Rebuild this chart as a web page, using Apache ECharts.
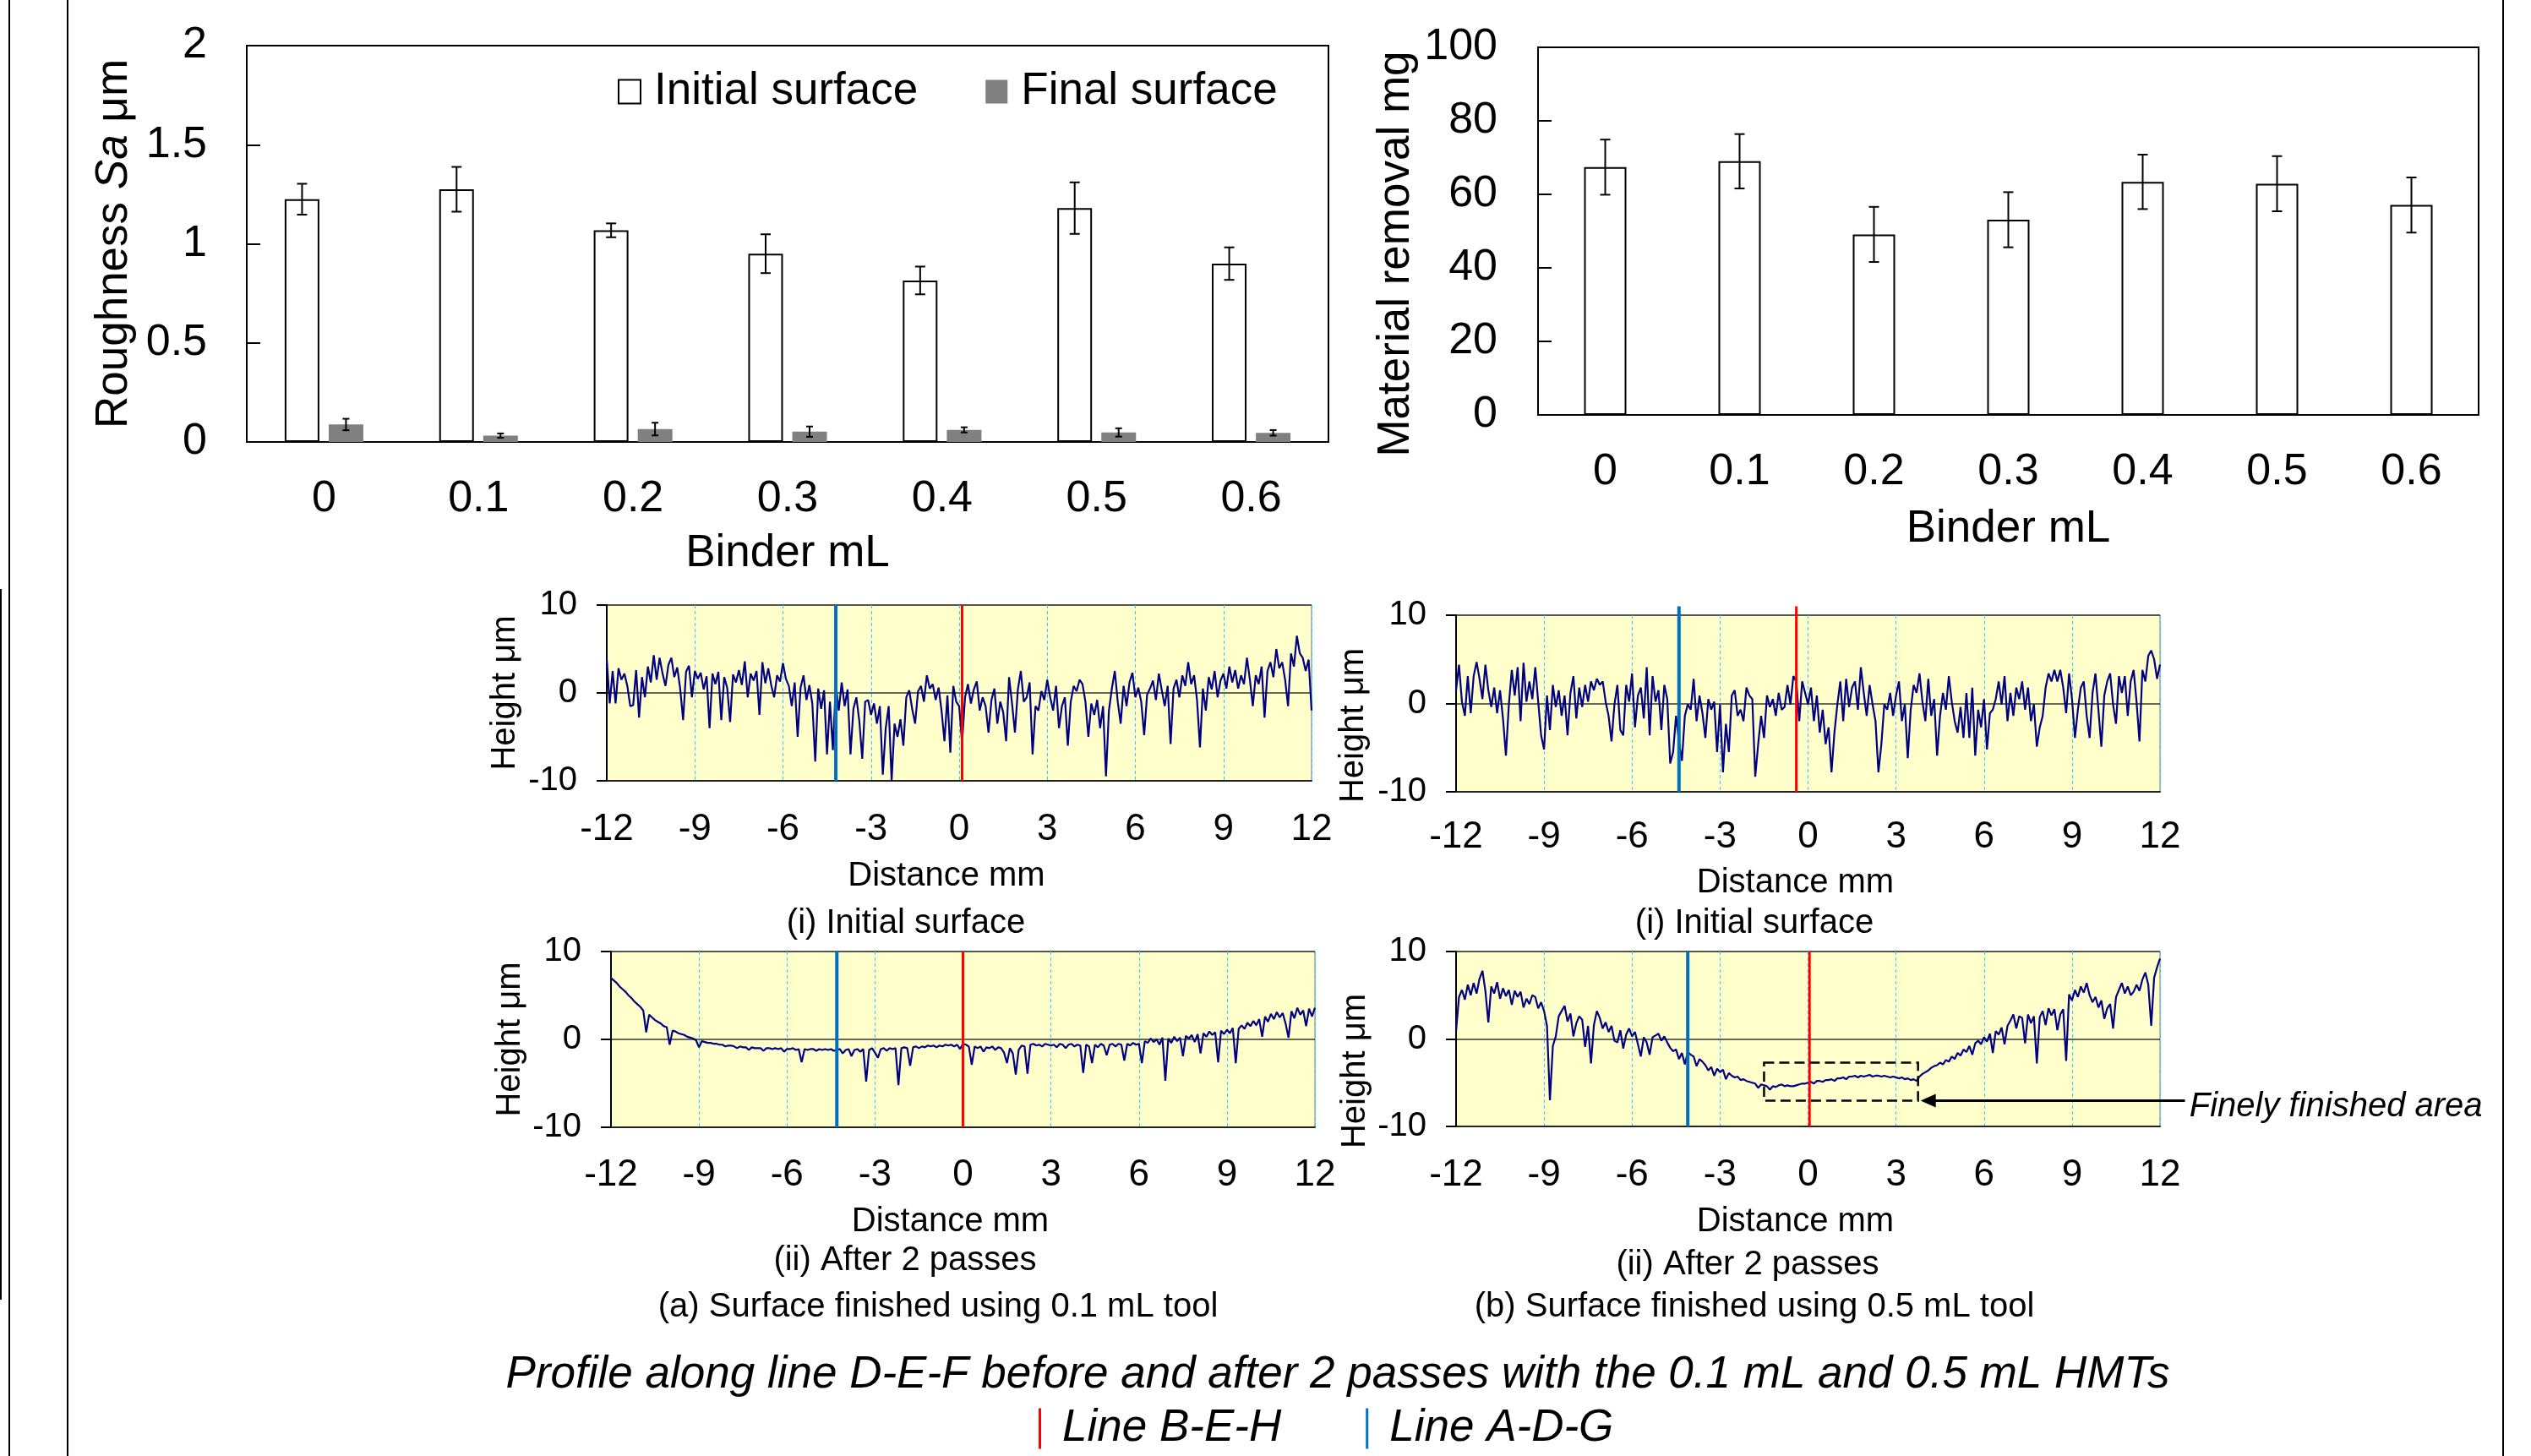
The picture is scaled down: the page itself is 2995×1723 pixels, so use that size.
<!DOCTYPE html>
<html><head><meta charset="utf-8">
<script src="https://cdn.jsdelivr.net/npm/echarts@6/dist/echarts.min.js"></script>
<style>html,body{margin:0;padding:0;background:#fff}#c{width:2995px;height:1723px}</style>
</head><body><div id="c"></div>
<script>
// ---------------- DATA ----------------
const binderCategories = ['0', '0.1', '0.2', '0.3', '0.4', '0.5', '0.6'];
const roughnessInitial = [1.225, 1.275, 1.068, 0.950, 0.815, 1.180, 0.900];
const roughnessInitialErr = [0.078, 0.113, 0.035, 0.098, 0.070, 0.130, 0.082];
const roughnessFinal = [0.088, 0.032, 0.065, 0.052, 0.061, 0.048, 0.046];
const roughnessFinalErr = [0.029, 0.011, 0.032, 0.026, 0.013, 0.021, 0.014];
const materialRemoval = [67.4, 69.0, 49.1, 53.1, 63.4, 62.9, 57.1];
const materialRemovalErr = [7.5, 7.4, 7.5, 7.5, 7.4, 7.5, 7.5];

// Profiles: heights (um) sampled every 0.1 mm from -12 mm to 12 mm (one row per mm)
const profileStart = -12;
const profileStep = 0.1;
const profileA_initial = [
  3.8, -1.2, 2.5, -1.2, 2.8, 1.5, 2.2, 0.8, -1.5, -1.4,
  2.6, -2.8, 1.8, -0.5, 3.0, 1.2, 4.3, 1.5, 4.0, 2.2,
  0.8, 3.2, 4.0, 1.8, 2.9, 0.5, -3.1, 2.4, 3.1, -0.5,
  2.5, 1.6, 2.3, 0.4, 1.9, -4.0, 2.2, 1.0, 2.4, -3.1,
  1.8, 0.6, -3.3, 2.1, 1.2, 2.6, 0.9, 3.6, -0.5, 2.2,
  1.4, 2.5, -2.5, 3.5, 1.1, 2.8, 0.9, -0.5, 2.0, 1.3,
  3.4, 1.6, 0.8, -1.5, 1.2, -5.0, 0.6, 2.0, -0.8, 0.9,
  -1.2, -7.8, 0.5, -1.8, 0.3, -7.0, -1.0, -6.5, 1.0, -2.0,
  1.2, -1.5, 0.4, -7.0, -1.8, -0.5, -3.2, -7.5, -1.0, -0.8,
  -2.5, -1.2, -3.5, -1.5, -9.3, -4.0, -1.5, -10.0, -3.5, -5.0,
  -3.0, -6.0, -0.5, 0.3, -1.8, -3.5, 0.2, 0.8, -1.0, 2.0,
  0.5, 1.0, -0.8, 0.6, -2.0, -5.5, -0.3, -6.8, 0.8, -1.0,
  -1.5, -5.7, -0.5, 1.0, -1.2, 0.4, 1.3, -2.0, -0.5, -1.5,
  -4.5, -0.8, 0.5, -3.5, -1.0, -2.2, -5.5, 1.8, -1.2, -4.5,
  0.4, 2.5, -1.0, -0.5, 1.2, -7.0, -1.5, -2.0, 0.2, -0.8,
  1.5, -0.5, -2.0, 0.8, -4.0, -1.5, -0.5, -6.0, -1.0, 0.8,
  0.2, 1.5, 1.0, -1.0, -5.0, -1.2, -2.5, -0.8, -4.0, -1.5,
  -9.5, -2.0, 0.5, 2.5, -1.0, -3.5, 0.8, -1.5, 1.2, 2.3,
  -0.5, 0.6, -1.0, -4.8, -0.2, 0.5, 1.4, -0.8, 2.2, 0.3,
  -1.5, 0.8, -5.8, 0.5, 1.5, -0.5, 2.0, 0.8, 3.5, 1.0,
  2.0, -0.8, -6.2, 0.5, -2.0, 1.8, 0.4, 2.5, -0.5, 1.4,
  2.2, 0.5, 3.0, 1.2, 2.6, 0.5, 2.0, 1.0, 4.0, 1.5,
  -1.5, 2.0, 1.0, 3.0, -2.8, 2.5, 3.5, 1.8, 5.0, 2.8,
  3.5, 1.5, -1.5, 4.5, 3.0, 6.5, 4.5, 4.0, 2.5, 3.8,
  -2.0
];
const profileA_after = [
  7.0, 6.7, 6.4, 6.0, 5.7, 5.4, 5.0, 4.7, 4.3, 4.0,
  3.7, 3.3, 0.8, 2.8, 2.5, 2.2, 2.0, 1.8, 1.5, 1.4,
  -0.6, 1.0, 0.9, 0.7, 0.6, 0.5, 0.3, 0.2, 0.1, -0.1,
  -0.9, -0.2, -0.3, -0.4, -0.4, -0.5, -0.5, -0.6, -0.6, -0.8,
  -0.7, -0.7, -0.8, -1.0, -0.8, -0.9, -0.9, -1.2, -0.9, -1.0,
  -1.0, -1.0, -1.3, -1.0, -1.0, -1.1, -1.0, -1.1, -1.0, -1.4,
  -1.1, -1.1, -1.0, -1.2, -1.1, -2.6, -1.1, -1.2, -1.1, -1.1,
  -1.3, -1.1, -1.2, -1.1, -1.2, -1.1, -1.3, -1.2, -1.1, -1.6,
  -1.2, -1.1, -1.9, -1.2, -1.1, -1.4, -1.1, -4.8, -1.2, -1.0,
  -1.5, -2.1, -1.1, -1.0, -1.3, -1.0, -1.1, -1.0, -5.2, -1.0,
  -0.9, -1.0, -3.0, -0.9, -0.8, -1.0, -0.8, -0.9, -0.7, -0.8,
  -0.7, -0.9, -0.7, -0.8, -0.6, -0.7, -0.6, -0.8, -0.6, -1.1,
  -0.5, -0.6, -0.8, -2.9, -0.8, -1.0, -0.8, -1.4, -0.9, -1.0,
  -0.8, -1.2, -0.9, -1.0, -1.5, -2.7, -1.0, -1.6, -4.0, -1.2,
  -0.7, -0.8, -3.9, -0.6, -0.5, -0.7, -0.6, -0.8, -0.5, -0.6,
  -0.7, -0.6, -0.9, -0.5, -0.6, -1.0, -0.6, -0.5, -0.8, -0.6,
  -0.7, -3.8, -0.6, -0.8, -2.7, -0.6, -0.9, -0.5, -0.7, -1.8,
  -0.6, -0.5, -0.8, -0.5, -0.6, -2.4, -0.5, -0.7, -0.4, -0.6,
  -0.5, -2.7, -0.2, -0.4, 0.1, -0.3, 0.0, -0.6, 0.2, -4.7,
  0.1, -0.4, 0.3, -0.2, 0.2, -1.9, 0.4, 0.1, 0.5, -0.3,
  0.6, -1.6, 0.7, 0.3, 0.9, 0.5, 0.8, -2.6, 1.0, 0.6,
  1.1, 0.7, 1.3, -2.7, 1.2, 1.6, 1.2, 1.9, 1.5, 2.1,
  1.6, 2.3, 0.3, 2.6, 2.0, 2.9, 2.3, 3.1, 2.5, 3.0,
  1.8, 0.2, 3.2, 2.4, 3.6, 2.8, 3.3, 1.5, 3.5, 2.6,
  3.6
];
const profileB_initial = [
  1.5, 4.4, 0.2, -1.4, 3.1, -1.1, 3.1, 4.7, 2.8, 0.5,
  4.4, 1.5, -0.4, 1.8, -1.1, 1.5, -1.7, -5.9, -0.1, 3.8,
  0.9, 4.1, -2.0, 4.6, 0.2, 2.5, 0.5, 4.1, 0.2, -3.6,
  -5.2, 0.9, -3.0, 2.1, -0.4, 1.5, -1.4, 0.9, -3.6, 1.2,
  3.1, -1.7, 1.8, -0.4, 2.1, 0.2, 2.5, 1.5, 2.8, 2.1,
  2.5, 0.2, -1.4, -4.3, -0.1, 2.1, -3.0, -3.6, 2.1, 0.2,
  3.4, -2.7, 0.9, 1.8, -1.7, 4.1, -3.6, 3.1, 0.2, 1.5,
  -3.0, 2.1, 0.5, -6.8, -5.5, -1.4, -4.3, -6.5, -1.4, -0.1,
  -0.7, 2.8, -2.0, 0.9, -1.1, -3.9, 0.5, -0.7, 0.2, -5.5,
  -0.1, -7.8, -2.3, -5.5, 0.9, 1.5, -1.4, -0.7, -2.0, 1.8,
  0.9, 0.5, -8.3, -4.6, -1.4, -3.9, 0.9, -0.4, 0.5, -1.4,
  1.2, -0.7, -0.4, 2.1, -0.1, 3.1, 2.5, -2.0, 2.5, 1.2,
  -0.1, 1.8, -2.0, 0.9, -3.3, -0.7, -4.6, -2.7, -7.8, -3.3,
  -0.1, 2.5, -2.0, 2.8, -0.4, 1.8, 2.5, -0.7, 4.1, 1.2,
  -1.4, 2.1, -0.1, -2.0, -7.8, -4.6, -0.1, -0.7, 1.2, -1.4,
  0.9, 2.5, -2.0, -0.1, -6.2, -0.7, 2.1, 1.2, 3.4, 0.2,
  -2.0, 2.8, -1.4, 0.5, -5.9, -1.4, 1.2, -0.7, 3.1, 0.2,
  -2.0, -3.3, -0.4, -3.9, 1.2, -3.9, 1.8, -5.9, -0.7, -2.7,
  0.5, -5.2, -1.1, -0.7, 0.5, 2.5, -0.1, 3.1, -2.0, 1.2,
  -1.4, 1.8, 0.5, 2.5, -0.7, 1.8, -2.0, -0.1, -4.9, -2.7,
  -1.4, 1.8, 3.4, 2.5, 3.8, 2.5, 3.8, 1.8, -1.1, 3.4,
  0.5, -3.9, -0.7, 1.8, 2.5, -1.4, -3.9, 1.2, 3.4, -0.7,
  -4.9, 0.9, 2.5, 3.4, -0.1, -2.3, 3.1, 1.2, 3.1, -1.4,
  2.5, 3.8, 0.2, -4.3, 3.8, 2.5, 5.4, 6.0, 5.0, 2.8,
  4.4
];
const profileB_after = [
  0.9, 4.8, 5.6, 4.5, 6.2, 5.0, 6.4, 5.2, 6.9, 7.8,
  5.5, 1.9, 6.0, 5.2, 6.5, 4.6, 5.8, 4.9, 5.6, 3.9,
  5.5, 4.8, 5.4, 3.6, 4.6, 4.0, 5.0, 4.8, 3.5, 4.2,
  3.2, 1.5, -7.0, -0.8, 0.3, 2.6, 3.2, 3.8, 2.0, 2.9,
  0.3, 1.8, 2.6, 2.2, -0.9, 1.5, -2.8, 1.6, 3.2, 2.4,
  1.2, 1.9, 0.8, 1.5, -0.2, -0.4, 1.0, -1.1, 0.5, 1.2,
  0.3, 0.8, -0.6, -2.0, 0.2, -0.4, -1.8, 0.2, 0.4, 0.6,
  -0.2, 0.3, -0.4, -1.0, -1.4, -1.2, -2.3, -1.6, -2.9, -1.5,
  -1.8, -2.0, -3.1, -2.3, -2.6, -3.0, -3.6, -3.2, -4.2, -3.4,
  -3.8, -3.5, -4.6, -3.9, -4.2, -4.4, -4.3, -4.7, -4.6, -4.8,
  -4.9, -5.0, -5.1, -5.6, -5.2, -5.3, -5.4, -5.8, -5.4, -5.5,
  -5.3, -5.2, -5.4, -5.3, -5.4, -5.4, -5.3, -5.2, -5.1, -5.1,
  -5.0, -4.9, -5.1, -4.8, -4.8, -4.9, -4.7, -4.7, -4.6, -4.8,
  -4.5, -4.5, -4.4, -4.6, -4.3, -4.3, -4.2, -4.4, -4.2, -4.3,
  -4.2, -4.1, -4.3, -4.2, -4.2, -4.3, -4.2, -4.3, -4.4, -4.3,
  -4.4, -4.5, -4.4, -4.6, -4.5, -4.7, -4.6, -4.8, -4.3, -4.0,
  -3.8, -3.6, -3.3, -3.1, -3.0, -2.7, -2.9, -2.4, -2.6, -2.0,
  -2.3, -1.6, -1.9, -1.2, -1.5, -0.8, -1.8, -0.5, -0.2, -0.6,
  0.2, -0.3, 0.6, -1.6, 0.9, 0.5, 1.3, -0.6, 1.5, 2.1,
  2.8, 1.2, 2.6, 2.4, -0.5, 2.8, 1.8, 2.6, -2.8, 2.5,
  3.2, 1.6, 3.5, 2.7, 3.4, 1.0, 2.8, 3.4, -2.5, 5.1,
  4.4, 5.6, 4.8, 6.0, 5.3, 6.4, 5.0, 4.2, 4.8, 3.6,
  4.4, 2.3, 3.5, 4.0, 1.2, 4.8, 5.6, 6.4, 5.2, 6.0,
  5.0, 5.4, 6.2, 5.5, 6.8, 7.6, 6.2, 1.5, 7.0, 8.2,
  9.2
];
// Reference line positions (mm) for panels a(i), a(ii), b(i), b(ii)
const lineBEH_x = [0.1, 0.0, -0.4, 0.05];
const lineADG_x = [-4.2, -4.3, -4.4, -4.1];
// Finely finished area box in b(ii): [xFrom, yTop, xTo, yBottom] (mm, um)
const finelyBox = [-1.5, -2.7, 3.75, -7.05];
const finelyArrowFromX = 12.85;
const finelyLabelX = 13.0;

// ---------------- CHART ----------------
const FONT = '"Liberation Sans", Arial, sans-serif';
const chart = echarts.init(document.getElementById('c'), null, {renderer: 'canvas', width: 2995, height: 1723});

function toXY(vals) {
  return vals.map((v, i) => [Math.round((profileStart + i * profileStep) * 100) / 100, v]);
}

function errorSeries(name, axisIdx, vals, errs, offsetPx, capHalf) {
  return {
    type: 'custom', name: name, xAxisIndex: axisIdx, yAxisIndex: axisIdx, z: 10,
    data: vals.map((v, i) => [i, v, errs[i]]),
    renderItem: function (params, api) {
      const c = api.value(0), v = api.value(1), e = api.value(2);
      const hi = api.coord([c, v + e]), lo = api.coord([c, v - e]);
      const x = hi[0] + offsetPx;
      const st = {stroke: '#000', lineWidth: 2};
      return {type: 'group', children: [
        {type: 'line', shape: {x1: x, y1: hi[1], x2: x, y2: lo[1]}, style: st},
        {type: 'line', shape: {x1: x - capHalf, y1: hi[1], x2: x + capHalf, y2: hi[1]}, style: st},
        {type: 'line', shape: {x1: x - capHalf, y1: lo[1], x2: x + capHalf, y2: lo[1]}, style: st}
      ]};
    }
  };
}

function vLine(name, color, width, axisIdx, xPos, yTop) {
  return {
    type: 'custom', name: name, xAxisIndex: axisIdx, yAxisIndex: axisIdx, z: 6,
    itemStyle: {color: color},
    data: [[xPos, -10, yTop]],
    renderItem: function (params, api) {
      const p1 = api.coord([api.value(0), api.value(1)]);
      const p2 = api.coord([api.value(0), api.value(2)]);
      return {type: 'line', shape: {x1: p1[0], y1: p1[1], x2: p2[0], y2: p2[1]},
        style: {stroke: color, lineWidth: width}};
    }
  };
}

const panels = [
  {vals: profileA_initial, grid: {left: 718, top: 716, width: 834, height: 208}, xNameGap: 93, xMargin: 36, yNameGap: 100, yShift: 0, vTop: 10},
  {vals: profileA_after,   grid: {left: 723, top: 1126, width: 833, height: 208}, xNameGap: 92, xMargin: 35, yNameGap: 99, yShift: 0, vTop: 10},
  {vals: profileB_initial, grid: {left: 1723, top: 728, width: 833, height: 209}, xNameGap: 88, xMargin: 32, yNameGap: 101, yShift: 52, vTop: 11},
  {vals: profileB_after,   grid: {left: 1723, top: 1126, width: 833, height: 207}, xNameGap: 93, xMargin: 36, yNameGap: 99, yShift: 76, vTop: 10}
];

const grids = [
  {left: 292, top: 54, width: 1280, height: 469, show: true, borderColor: '#000', borderWidth: 2, backgroundColor: 'transparent'},
  {left: 1820, top: 56, width: 1113, height: 435, show: true, borderColor: '#000', borderWidth: 2, backgroundColor: 'transparent'}
];
const xAxes = [
  {gridIndex: 0, type: 'category', data: binderCategories,
   axisLine: {lineStyle: {color: '#000', width: 2}},
   axisTick: {inside: true, length: 15, lineStyle: {color: '#000', width: 2}},
   axisLabel: {fontSize: 52, color: '#000', margin: 42, fontFamily: FONT},
   name: 'Binder mL', nameLocation: 'middle', nameGap: 106,
   nameTextStyle: {fontSize: 53, color: '#000', fontFamily: FONT}},
  {gridIndex: 1, type: 'category', data: binderCategories,
   axisLine: {lineStyle: {color: '#000', width: 2}},
   axisTick: {inside: true, length: 15, lineStyle: {color: '#000', width: 2}},
   axisLabel: {fontSize: 52, color: '#000', margin: 42, fontFamily: FONT},
   name: 'Binder mL', nameLocation: 'middle', nameGap: 109,
   nameTextStyle: {fontSize: 53, color: '#000', fontFamily: FONT}}
];
const yAxes = [
  {gridIndex: 0, type: 'value', min: 0, max: 2, interval: 0.5,
   axisLine: {show: true, lineStyle: {color: '#000', width: 2}},
   axisTick: {show: true, inside: true, length: 16, lineStyle: {color: '#000', width: 2}},
   splitLine: {show: false},
   axisLabel: {fontSize: 52, color: '#000', margin: 47, fontFamily: FONT, padding: [8, 0, 0, 0]},
   name: '{n|Roughness }{i|Sa}{n| \u03bcm}', nameLocation: 'middle', nameRotate: 90, nameGap: 130,
   nameTextStyle: {fontSize: 53, color: '#000', fontFamily: FONT,
     rich: {n: {fontSize: 53, color: '#000', fontFamily: FONT},
            i: {fontSize: 53, color: '#000', fontStyle: 'italic', fontFamily: FONT}}}},
  {gridIndex: 1, type: 'value', min: 0, max: 100, interval: 20,
   axisLine: {show: true, lineStyle: {color: '#000', width: 2}},
   axisTick: {show: true, inside: true, length: 16, lineStyle: {color: '#000', width: 2}},
   splitLine: {show: false},
   axisLabel: {fontSize: 52, color: '#000', margin: 48, fontFamily: FONT, padding: [6, 0, 0, 0]},
   name: 'Material removal mg', nameLocation: 'middle', nameRotate: 90, nameGap: 141,
   nameTextStyle: {fontSize: 53, color: '#000', fontFamily: FONT, padding: [0, 54, 0, 0]}}
];
const series = [
  {type: 'bar', name: 'Initial surface', xAxisIndex: 0, yAxisIndex: 0, data: roughnessInitial,
   barWidth: 41, barGap: '27%', itemStyle: {color: '#ffffff', borderColor: '#000', borderWidth: 2}},
  {type: 'bar', name: 'Final surface', xAxisIndex: 0, yAxisIndex: 0, data: roughnessFinal,
   barWidth: 41, barGap: '27%', itemStyle: {color: '#808080'}},
  errorSeries('Initial surface error', 0, roughnessInitial, roughnessInitialErr, -26, 6),
  errorSeries('Final surface error', 0, roughnessFinal, roughnessFinalErr, 26, 4),
  {type: 'bar', name: 'Material removal', xAxisIndex: 1, yAxisIndex: 1, data: materialRemoval,
   barWidth: 50, itemStyle: {color: '#ffffff', borderColor: '#000', borderWidth: 2}},
  errorSeries('Material removal error', 1, materialRemoval, materialRemovalErr, 0, 6)
];

panels.forEach((p, k) => {
  const gi = k + 2;
  grids.push(Object.assign({show: true, backgroundColor: '#FFFFCC', borderColor: '#777', borderWidth: 1}, p.grid));
  xAxes.push({gridIndex: gi, type: 'value', min: -12, max: 12, interval: 3,
    axisLine: {show: true, onZero: false, lineStyle: {color: '#222', width: 2}},
    axisTick: {show: false},
    splitLine: {show: true, lineStyle: {color: '#33CCFF', width: 1, type: [4, 3]}},
    axisLabel: {fontSize: 44, color: '#000', margin: p.xMargin, fontFamily: FONT},
    name: 'Distance mm', nameLocation: 'middle', nameGap: p.xNameGap,
    nameTextStyle: {fontSize: 40, color: '#000', fontFamily: FONT, padding: [0, 30, 0, 0]}});
  yAxes.push({gridIndex: gi, type: 'value', min: -10, max: 10, interval: 10,
    axisLine: {show: true, onZero: false, lineStyle: {color: '#000', width: 2}},
    axisTick: {show: true, length: 12, lineStyle: {color: '#000', width: 2}},
    splitLine: {show: true, lineStyle: {color: '#333', width: 1.5}},
    axisLabel: {fontSize: 40, color: '#000', margin: 35, fontFamily: FONT, padding: [6, 0, 0, 0]},
    name: 'Height \u03bcm', nameLocation: 'middle', nameRotate: 90, nameGap: p.yNameGap,
    nameTextStyle: {fontSize: 40, color: '#000', fontFamily: FONT, padding: [0, p.yShift, 0, 0]}});
  series.push({type: 'line', name: 'profile' + k, xAxisIndex: gi, yAxisIndex: gi, data: toXY(p.vals),
    showSymbol: false, symbol: 'none', z: 3, clip: true,
    lineStyle: {color: '#000080', width: 2.2}, itemStyle: {color: '#000080'}});
  series.push(vLine('Line A-D-G', '#0070C0', 4, gi, lineADG_x[k], p.vTop));
  series.push(vLine('Line B-E-H', '#FF0000', 3, gi, lineBEH_x[k], p.vTop));
});

// annotation in panel b(ii)
series.push({
  type: 'custom', name: 'finely', xAxisIndex: 5, yAxisIndex: 5, z: 8,
  data: [finelyBox.concat([finelyArrowFromX, finelyLabelX])],
  renderItem: function (params, api) {
    const a = api.coord([api.value(0), api.value(1)]);
    const b = api.coord([api.value(2), api.value(3)]);
    const s = api.coord([api.value(4), api.value(3)]);
    const t = api.coord([api.value(5), api.value(3)]);
    const tipX = b[0] + 3;
    return {type: 'group', children: [
      {type: 'rect', shape: {x: a[0], y: a[1], width: b[0] - a[0], height: b[1] - a[1]},
       style: {fill: 'none', stroke: '#000', lineWidth: 2.5, lineDash: [12, 6]}},
      {type: 'line', shape: {x1: s[0], y1: s[1], x2: tipX + 16, y2: s[1]}, style: {stroke: '#000', lineWidth: 3}},
      {type: 'polygon', shape: {points: [[tipX, s[1]], [tipX + 18, s[1] - 8], [tipX + 18, s[1] + 8]]}, style: {fill: '#000'}},
      {type: 'text', x: t[0], y: t[1] + 7, style: {text: 'Finely finished area', textAlign: 'left', textVerticalAlign: 'middle',
        font: 'italic 40px "Liberation Sans", Arial, sans-serif', fill: '#000'}}
    ]};
  }
});

function cap(text, cx, cy, size, italic) {
  return {text: text, left: cx, top: cy, textAlign: 'center', textVerticalAlign: 'middle', padding: 0,
    textStyle: {fontSize: size, fontWeight: 'normal', fontStyle: italic ? 'italic' : 'normal', fontFamily: FONT, color: '#000'}};
}

const option = {
  animation: false,
  backgroundColor: '#ffffff',
  textStyle: {fontFamily: FONT, color: '#000'},
  title: [
    cap('Profile along line D-E-F before and after 2 passes with the 0.1 mL and 0.5 mL HMTs', 1583, 1627, 53, true),
    cap('(i) Initial surface', 1072, 1093, 40),
    cap('(i) Initial surface', 2076, 1093, 40),
    cap('(ii) After 2 passes', 1071, 1492, 40),
    cap('(ii) After 2 passes', 2068, 1497, 40),
    cap('(a) Surface finished using 0.1 mL tool', 1110, 1547, 40),
    cap('(b) Surface finished using 0.5 mL tool', 2076, 1547, 40)
  ],
  legend: [
    {data: ['Initial surface', 'Final surface'], left: 731, top: 82, padding: 0, icon: 'rect',
     itemWidth: 26, itemHeight: 28, itemGap: 80, selectedMode: false,
     textStyle: {fontSize: 53, color: '#000', fontFamily: FONT, padding: [0, 0, 0, 11]}},
    {data: ['Line B-E-H', 'Line A-D-G'], left: 1229, top: 1664, padding: 0, icon: 'rect',
     itemWidth: 3, itemHeight: 48, itemGap: 100, selectedMode: false,
     textStyle: {fontSize: 53, color: '#000', fontStyle: 'italic', fontFamily: FONT, padding: [0, 0, 0, 20]}}
  ],
  graphic: [
    {type: 'line', shape: {x1: 11, y1: 0, x2: 11, y2: 1723}, style: {stroke: '#000', lineWidth: 2}},
    {type: 'line', shape: {x1: 80, y1: 0, x2: 80, y2: 1723}, style: {stroke: '#000', lineWidth: 2}},
    {type: 'line', shape: {x1: 1, y1: 697, x2: 1, y2: 1538}, style: {stroke: '#000', lineWidth: 2}},
    {type: 'line', shape: {x1: 2962, y1: 0, x2: 2962, y2: 1723}, style: {stroke: '#000', lineWidth: 2}}
  ],
  grid: grids,
  xAxis: xAxes,
  yAxis: yAxes,
  series: series
};
chart.setOption(option);
</script>
</body></html>
